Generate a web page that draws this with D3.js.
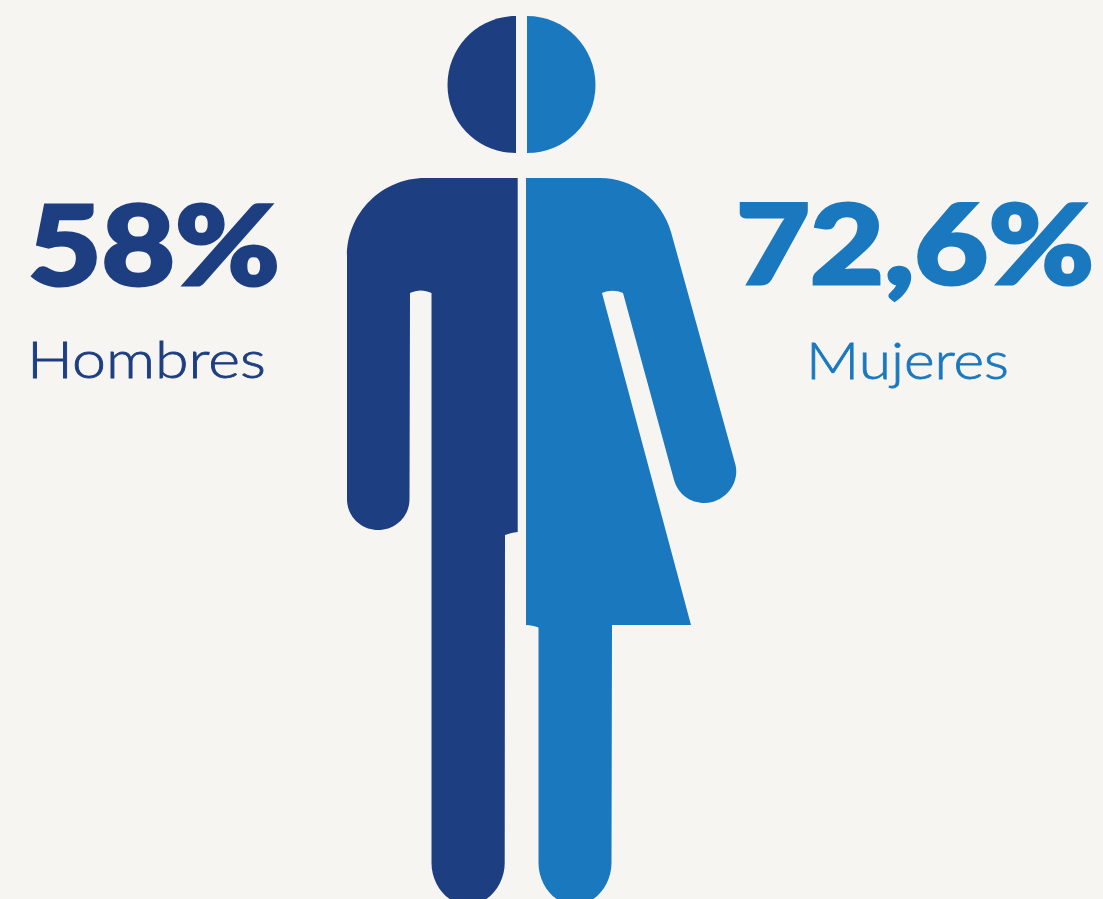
<!DOCTYPE html>
<html lang="es">
<head>
<meta charset="UTF-8">
<title>Hombres y mujeres</title>
<script src="https://cdn.jsdelivr.net/npm/d3@7"></script>
<style>
html, body { margin: 0; padding: 0; background: #f6f5f1; overflow: hidden; }
svg { display: block; }
text { font-family: Lato, Inter, sans-serif; }
</style>
</head>
<body>
<div id="output"></div>

<script>

var categories = ["Hombres", "Mujeres"];
var values = [58, 72.6];
var colors = ["#1d3e80", "#1a78bf"];

var w = 1103;
var h = 899;

var svg = d3.select("#output")
    .append("svg")
    .attr("width", w)
    .attr("height", h);

// comma as decimal mark, as in the original
var fmt = d3.formatLocale({
    decimal: ",", thousands: ".", grouping: [3], currency: ["", ""]
}).format("~r");

// silhouette outlines, one half per category
var heads = [
    "M516,16 C478,16 447.5,47 447.5,85 C447.5,123 478,153 516,153 Z",
    "M527,16 C565,16 595.5,47 595.5,85 C595.5,123 565,153 527,153 Z"
];
var bodies = [
    "M517.7,178 L425,178 C382,178 347,213 347,256 L347,499 C347,516.5 361,530 378.2,530 " +
    "C395.5,530 409.5,516.5 409.5,499 L410,293 C417,289.5 424.5,289.5 431.5,293 L431.5,863 " +
    "C431.5,885 448,905 468,905 C488,905 504.7,885 504.7,863 L505,535 C509,533.5 513,532.5 517.7,532 Z",
    "M526,178 L600,178 C633,178 662,200 671,232 L735.5,465 C740,484 724,503 705,503 " +
    "C690,503 678,494 674,480 L623,293 C616,290 609,290 602,293 L691,625 L612,625 L611.5,863 " +
    "C611.5,885 595,905 575,905 C555,905 538.5,885 538.5,863 L538.5,627.5 C534.5,626 530.5,625.3 526,625 Z"
];

var person = svg.selectAll("g.half")
    .data(categories)
    .enter()
    .append("g")
    .attr("class", "half")
    .attr("fill", function(d, i) { return colors[i]; });

person.append("path").attr("d", function(d, i) { return heads[i]; });
person.append("path").attr("d", function(d, i) { return bodies[i]; });

// label boxes are [x, width]
var valueBox = [[28, 252], [736, 358]];
var nameBox = [[27, 239], [806, 203]];
var valueBase = [285, 284];
var nameBase = [378, 379];

svg.selectAll("text.value")
    .data(values)
    .enter()
    .append("text")
    .attr("class", "value")
    .attr("x", function(d, i) { return valueBox[i][0]; })
    .attr("y", function(d, i) { return valueBase[i]; })
    .attr("textLength", function(d, i) { return valueBox[i][1]; })
    .attr("lengthAdjust", "spacingAndGlyphs")
    .attr("font-size", 110)
    .attr("font-weight", 900)
    .attr("stroke-width", 3)
    .attr("stroke-linejoin", "miter")
    .attr("stroke", function(d, i) { return colors[i]; })
    .attr("fill", function(d, i) { return colors[i]; })
    .text(function(d) { return fmt(d) + "%"; });

svg.selectAll("text.name")
    .data(categories)
    .enter()
    .append("text")
    .attr("class", "name")
    .attr("x", function(d, i) { return nameBox[i][0]; })
    .attr("y", function(d, i) { return nameBase[i]; })
    .attr("textLength", function(d, i) { return nameBox[i][1]; })
    .attr("lengthAdjust", "spacingAndGlyphs")
    .attr("font-size", 52)
    .attr("font-weight", 300)
    .attr("stroke-width", 0.8)
    .attr("stroke", function(d, i) { return colors[i]; })
    .attr("fill", function(d, i) { return colors[i]; })
    .text(function(d) { return d; });

</script>
</body>
</html>
